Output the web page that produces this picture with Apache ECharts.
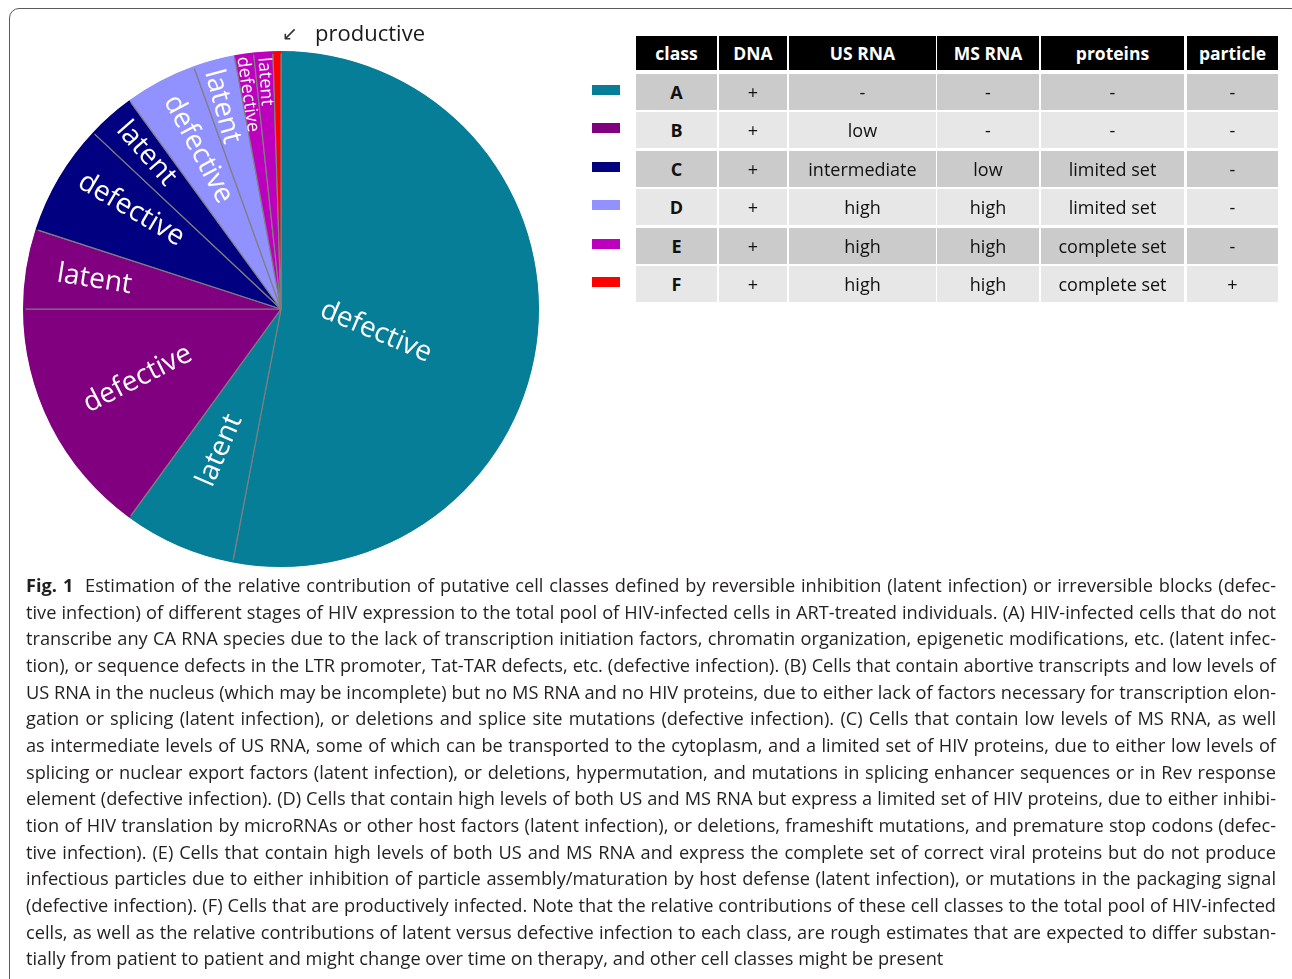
<!DOCTYPE html>
<html>
<head>
<meta charset="utf-8">
<script src="https://cdn.jsdelivr.net/npm/echarts@6/dist/echarts.min.js"></script>
<style>
html, body { margin: 0; padding: 0; background: #fff; }
body { width: 1292px; height: 979px; position: relative; overflow: hidden; font-family: 'Open Sans', sans-serif; }
#frame { position: absolute; left: 9px; top: 8px; width: 1292px; height: 982px; border: 1.3px solid #5a5a5a; border-radius: 10px; box-sizing: border-box; }
#main { position: absolute; left: 0; top: 0; width: 620px; height: 575px; }
.cell { position: absolute; display: flex; align-items: center; justify-content: center; font-size: 18px; color: #111; white-space: nowrap; }
.hd { background: #000; color: #fff; font-weight: bold; font-size: 17.5px; }
.cls { font-weight: bold; }
.mk { position: absolute; }
#caption { position: absolute; left: 26px; top: 572px; width: 3000px; transform-origin: 0 0; font-size: 18.5px; line-height: 26.65px; color: #231f20; }
#caption .ln { text-align: justify; text-align-last: justify; }
#caption .ln.last { text-align-last: left; }
#caption.measure .ln { text-align: left; text-align-last: left; white-space: nowrap; }
</style>
</head>
<body>
<div id="frame"></div>
<div id="main"></div>
<div id="table"></div>
<div id="caption"></div>
<script>
// pie slices, clockwise from 12 o'clock
const sliceNames = ['defective', 'latent', 'defective', 'latent', 'defective', 'latent',
                    'defective', 'latent', 'defective', 'latent', 'productive'];
const sliceClass = ['A', 'A', 'B', 'B', 'C', 'C', 'D', 'D', 'E', 'E', 'F'];
const sliceValues = [53, 7, 15, 5, 7, 3, 4.5, 2.6, 1.2, 1.2, 0.5];

// table
const headers = ['class', 'DNA', 'US RNA', 'MS RNA', 'proteins', 'particle'];
const classes = ['A', 'B', 'C', 'D', 'E', 'F'];
const dna = ['+', '+', '+', '+', '+', '+'];
const usRna = ['-', 'low', 'intermediate', 'high', 'high', 'high'];
const msRna = ['-', '-', 'low', 'high', 'high', 'high'];
const proteins = ['-', '-', 'limited set', 'limited set', 'complete set', 'complete set'];
const particle = ['-', '-', '-', '-', '-', '+'];

const classColors = { A: '#077e97', B: '#800080', C: '#000080', D: '#9191ff', E: '#bd00bd', F: '#ff0000' };

const captionLines = [
  'Estimation of the relative contribution of putative cell classes defined by reversible inhibition (latent infection) or irreversible blocks (defec-',
  'tive infection) of different stages of HIV expression to the total pool of HIV-infected cells in ART-treated individuals. (A) HIV-infected cells that do not',
  'transcribe any CA RNA species due to the lack of transcription initiation factors, chromatin organization, epigenetic modifications, etc. (latent infec-',
  'tion), or sequence defects in the LTR promoter, Tat-TAR defects, etc. (defective infection). (B) Cells that contain abortive transcripts and low levels of',
  'US RNA in the nucleus (which may be incomplete) but no MS RNA and no HIV proteins, due to either lack of factors necessary for transcription elon-',
  'gation or splicing (latent infection), or deletions and splice site mutations (defective infection). (C) Cells that contain low levels of MS RNA, as well',
  'as intermediate levels of US RNA, some of which can be transported to the cytoplasm, and a limited set of HIV proteins, due to either low levels of',
  'splicing or nuclear export factors (latent infection), or deletions, hypermutation, and mutations in splicing enhancer sequences or in Rev response',
  'element (defective infection). (D) Cells that contain high levels of both US and MS RNA but express a limited set of HIV proteins, due to either inhibi-',
  'tion of HIV translation by microRNAs or other host factors (latent infection), or deletions, frameshift mutations, and premature stop codons (defec-',
  'tive infection). (E) Cells that contain high levels of both US and MS RNA and express the complete set of correct viral proteins but do not produce',
  'infectious particles due to either inhibition of particle assembly/maturation by host defense (latent infection), or mutations in the packaging signal',
  '(defective infection). (F) Cells that are productively infected. Note that the relative contributions of these cell classes to the total pool of HIV-infected',
  'cells, as well as the relative contributions of latent versus defective infection to each class, are rough estimates that are expected to differ substan-',
  'tially from patient to patient and might change over time on therapy, and other cell classes might be present'
];

// label placement (fraction of radius, angle shift in degrees)
const labelRadius = [0.38, 0.60, 0.62, 0.735, 0.70, 0.80, 0.70, 0.82, 0.845, 0.887, 0];
const labelShift = [8, 0, 1, 0, 3, 0.5, 0.5, -1, -0.5, 0, 0];

const CX = 281, CY = 309, R = 257;

const total = sliceValues.reduce((a, b) => a + b, 0);
let cum = 0;
const midDeg = sliceValues.map(v => { const m = (cum + v / 2) / total * 360; cum += v; return m; });

const pieData = sliceValues.map((v, i) => {
  const item = { value: v, name: sliceNames[i], itemStyle: { color: classColors[sliceClass[i]] } };
  if (i === 0) item.label = { rotate: -23 };
  if (sliceClass[i] === 'E') item.label = { fontSize: 18 };
  if (sliceClass[i] === 'F') item.label = {
    position: 'outside', rotate: 0, color: '#1a1a1a', fontSize: 22,
    formatter: '{a|\u2199}   {name|productive}',
    rich: { a: { fontFamily: 'DejaVu Sans', fontSize: 19, color: '#333' }, name: { fontSize: 22, color: '#1a1a1a' } }
  };
  return item;
});

const ringData = sliceValues.map((v, i) => ({ value: v, name: sliceNames[i], itemStyle: { color: classColors[sliceClass[i]] } }));

const chart = echarts.init(document.getElementById('main'));
chart.setOption({
  animation: false,
  series: [
    {
      type: 'pie',
      center: [CX, CY],
      radius: R,
      startAngle: 90,
      clockwise: true,
      avoidLabelOverlap: false,
      data: pieData,
      itemStyle: { borderColor: '#7f7f7f', borderWidth: 1.2 },
      label: {
        show: true, position: 'inside', rotate: 'radial',
        color: '#fff', fontFamily: 'Open Sans', fontSize: 28, textBorderWidth: 0,
        formatter: '{b}'
      },
      labelLine: { show: false },
      labelLayout: function (p) {
        const i = p.dataIndex;
        if (sliceClass[i] === 'F') {
          return { x: CX + 1, y: CY - R - 17, align: 'left', verticalAlign: 'middle', rotate: 0 };
        }
        const a = (midDeg[i] + labelShift[i]) * Math.PI / 180;
        return { x: CX + labelRadius[i] * R * Math.sin(a), y: CY - labelRadius[i] * R * Math.cos(a) };
      },
      emphasis: { disabled: true },
      silent: true
    },
    {
      // covers the grey outline on the outer arc
      type: 'pie',
      center: [CX, CY],
      radius: [R - 1.5, R + 1],
      startAngle: 90,
      clockwise: true,
      data: ringData,
      label: { show: false },
      labelLine: { show: false },
      emphasis: { disabled: true },
      silent: true
    }
  ]
});

// table
const colX = [636, 719, 789, 937, 1041, 1187];
const colW = [81, 68, 147, 102, 143, 91];
const table = document.getElementById('table');
function addCell(x, y, w, h, text, cls, bg) {
  const d = document.createElement('div');
  d.className = 'cell' + (cls ? ' ' + cls : '');
  d.style.left = x + 'px'; d.style.top = y + 'px';
  d.style.width = w + 'px'; d.style.height = h + 'px';
  if (bg) d.style.background = bg;
  d.textContent = text;
  table.appendChild(d);
}
headers.forEach((h, j) => addCell(colX[j], 36, colW[j], 34, h, 'hd'));
const cols = [classes, dna, usRna, msRna, proteins, particle];
classes.forEach((c, i) => {
  const top = 74 + i * 38.4;
  const bg = i % 2 === 0 ? '#cbcbcb' : '#e7e7e7';
  cols.forEach((col, j) => addCell(colX[j], top, colW[j], 36, col[i], j === 0 ? 'cls' : '', bg));
  const m = document.createElement('div');
  m.className = 'mk';
  m.style.left = '592px'; m.style.top = (top + 11) + 'px';
  m.style.width = '28px'; m.style.height = '10px';
  m.style.background = classColors[c];
  table.appendChild(m);
});

// caption
const cap = document.getElementById('caption');
const spans = [];
captionLines.forEach((t, i) => {
  const d = document.createElement('div');
  d.className = 'ln' + (i === captionLines.length - 1 ? ' last' : '');
  const s = document.createElement('span');
  if (i === 0) s.innerHTML = '<b>Fig. 1</b>&nbsp; ' + t;
  else s.textContent = t;
  d.appendChild(s);
  cap.appendChild(d);
  spans.push(s);
});
function fitCaption() {
  cap.classList.add('measure');
  cap.style.width = '3000px';
  cap.style.transform = 'none';
  let M = 0;
  spans.forEach(s => { M = Math.max(M, s.getBoundingClientRect().width); });
  M = Math.ceil(M) + 2;
  cap.classList.remove('measure');
  cap.style.width = M + 'px';
  cap.style.transform = 'scaleX(' + (1250 / M) + ')';
}
fitCaption();
if (document.fonts && document.fonts.ready) document.fonts.ready.then(fitCaption);
</script>
</body>
</html>
